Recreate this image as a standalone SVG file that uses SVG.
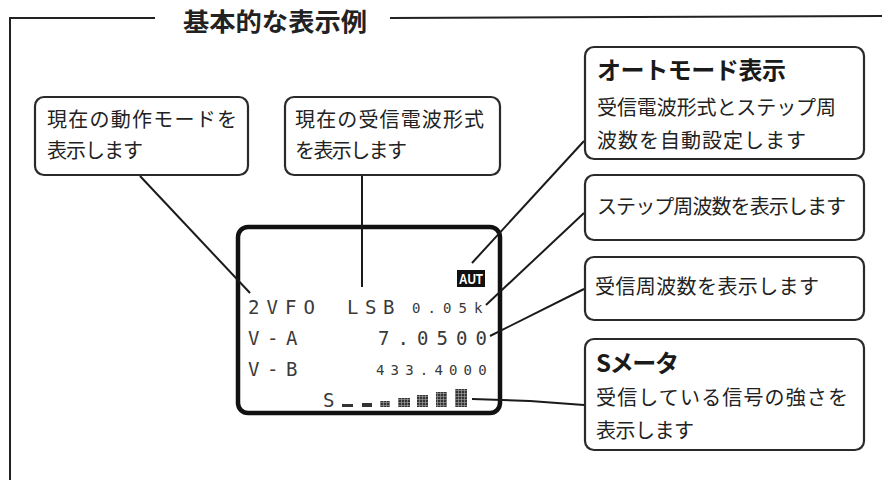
<svg xmlns="http://www.w3.org/2000/svg" width="882" height="480" viewBox="0 0 882 480">
<style>
.frame{fill:none;stroke:#222;stroke-width:2}
.box{fill:#fff;stroke:#2a2a2a;stroke-width:2.2}
.lcd{fill:#fff;stroke:#111;stroke-width:4.5}
.con{fill:none;stroke:#1a1a1a;stroke-width:2}
.jp{font-family:"Noto Sans CJK JP","Noto Sans",sans-serif;font-size:20px;fill:#222}
.jpb{font-family:"Noto Sans CJK JP","Noto Sans",sans-serif;font-size:24px;font-weight:bold;fill:#1a1a1a}
.title{font-family:"Noto Sans CJK JP","Noto Sans",sans-serif;font-size:25px;font-weight:bold;fill:#222}
.big{font-family:"DejaVu Sans Mono",monospace;font-size:19px;fill:#3a3a3a}
.small{font-family:"DejaVu Sans Mono",monospace;font-size:14px;fill:#3a3a3a}
.bar{fill:url(#grid)}
</style>
<defs>
<pattern id="grid" width="3" height="3" patternUnits="userSpaceOnUse" y="1">
<rect width="3" height="3" fill="#333"/>
<rect x="0" y="2.3" width="3" height="0.7" fill="#999"/>
<rect x="2.3" y="0" width="0.7" height="3" fill="#999"/>
</pattern>
</defs>
<rect width="882" height="480" fill="#fff"/>
<g id="frame">
<polyline class="frame" points="155,18 10,18 10,480"/>
<line class="frame" x1="390" y1="18" x2="882" y2="16"/>
<text class="title" x="183" y="31" textLength="184" lengthAdjust="spacingAndGlyphs">基本的な表示例</text>
</g>
<g id="display">
<rect class="lcd" x="238" y="227" width="262" height="186" rx="10"/>
<rect x="457" y="270" width="28" height="17" fill="#111"/>
<text x="471" y="284" text-anchor="middle" font-family="Liberation Sans Narrow,Liberation Sans,sans-serif" font-size="14" font-weight="bold" fill="#fff" textLength="24" lengthAdjust="spacingAndGlyphs">AUT</text>
<text class="big" x="248 266.5 285 303.5" y="314">2VFO</text>
<text class="big" x="347 365 383" y="314">LSB</text>
<text class="small" x="412 427.5 443 458.5 474" y="313">0.05k</text>
<text class="big" x="248 267 286" y="345">V-A</text>
<text class="big" x="378 397.5 417 436.5 456 475.5" y="345">7.0500</text>
<text class="big" x="248 267 286" y="376">V-B</text>
<text class="small" x="376 390.6 405.2 419.8 434.4 449 463.6 478.2" y="375">433.4000</text>
<text class="big" x="323" y="407">S</text>
<rect x="342" y="404" width="11" height="3" fill="#333"/>
<rect x="362" y="403" width="10" height="4" fill="#333"/>
<rect class="bar" x="380" y="401" width="10" height="6"/>
<rect class="bar" x="398" y="398" width="12" height="9"/>
<rect class="bar" x="417" y="395" width="11" height="12"/>
<rect class="bar" x="436" y="392" width="11" height="15"/>
<rect class="bar" x="455" y="389" width="12" height="18"/>
</g>
<g id="node-mode">
<rect class="box" x="35" y="97" width="213" height="78" rx="9"/>
<text class="jp" x="47" y="127" textLength="190" lengthAdjust="spacing">現在の動作モードを</text>
<text class="jp" x="47" y="158" textLength="96" lengthAdjust="spacing">表示します</text>
</g>
<g id="node-wave">
<rect class="box" x="285" y="97" width="215" height="78" rx="9"/>
<text class="jp" x="295" y="127" textLength="189" lengthAdjust="spacing">現在の受信電波形式</text>
<text class="jp" x="295" y="158" textLength="112" lengthAdjust="spacing">を表示します</text>
</g>
<g id="node-auto">
<rect class="box" x="585" y="47" width="279" height="112" rx="9"/>
<text class="jpb" x="597" y="79" textLength="189" lengthAdjust="spacing">オートモード表示</text>
<text class="jp" x="597" y="115" textLength="239" lengthAdjust="spacing">受信電波形式とステップ周</text>
<text class="jp" x="597" y="148" textLength="209" lengthAdjust="spacing">波数を自動設定します</text>
</g>
<g id="node-step">
<rect class="box" x="585" y="175" width="279" height="65" rx="9"/>
<text class="jp" x="597" y="214" textLength="249" lengthAdjust="spacing">ステップ周波数を表示します</text>
</g>
<g id="node-freq">
<rect class="box" x="585" y="257" width="279" height="63" rx="9"/>
<text class="jp" x="595" y="294" textLength="224" lengthAdjust="spacing">受信周波数を表示します</text>
</g>
<g id="node-smeter">
<rect class="box" x="585" y="339" width="279" height="111" rx="9"/>
<text class="jpb" x="596" y="372" textLength="83" lengthAdjust="spacing">Sメータ</text>
<text class="jp" x="596" y="405" textLength="252" lengthAdjust="spacing">受信している信号の強さを</text>
<text class="jp" x="596" y="438" textLength="98" lengthAdjust="spacing">表示します</text>
</g>
<g id="connectors">
<line class="con" x1="140" y1="176" x2="250" y2="293"/>
<line class="con" x1="362" y1="176" x2="362" y2="287"/>
<line class="con" x1="584" y1="141" x2="472" y2="263"/>
<line class="con" x1="584" y1="213" x2="486" y2="305"/>
<line class="con" x1="584" y1="289" x2="490" y2="336"/>
<polyline class="con" points="472,399 530,401 584,405"/>
</g>
</svg>
